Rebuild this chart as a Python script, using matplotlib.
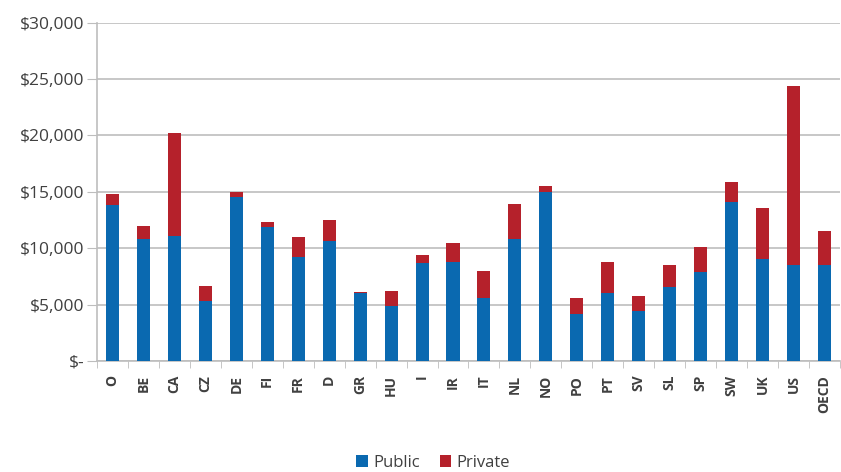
import matplotlib.pyplot as plt
import numpy as np
from matplotlib.ticker import FuncFormatter

countries = ['O', 'BE', 'CA', 'CZ', 'DE', 'FI', 'FR', 'D', 'GR', 'HU', 'I', 'IR',
             'IT', 'NL', 'NO', 'PO', 'PT', 'SV', 'SL', 'SP', 'SW', 'UK', 'US', 'OECD']
public  = [13800, 10800, 11100, 5350, 14500, 11850, 9250, 10650, 6000, 4900, 8650, 8800,
           5600, 10850, 15000, 4150, 6000, 4450, 6550, 7850, 14100, 9050, 8500, 8500]
total   = [14800, 12000, 20200, 6650, 15000, 12350, 10950, 12500, 6150, 6250, 9400, 10500,
           8000, 13950, 15550, 5600, 8800, 5750, 8550, 10100, 15900, 13550, 24400, 11500]
private = [t - p for t, p in zip(total, public)]

BLUE = '#0a69b0'
RED  = '#b5212b'
TXT  = '#404040'
GRID = '#bdbdbd'

plt.rcParams['font.family'] = ['Open Sans', 'DejaVu Sans']

fig = plt.figure(figsize=(8.41, 4.72), dpi=100)
ax = fig.add_axes([0.1153, 0.2352, 0.8835, 0.7168])

x = np.arange(len(countries))
w = 0.42
ax.bar(x, public, w, color=BLUE, label='Public', zorder=3)
ax.bar(x, private, w, bottom=public, color=RED, label='Private', zorder=3)

ax.set_xlim(-0.5, len(countries) - 0.5)
ax.set_ylim(0, 30000)
ax.set_yticks(np.arange(0, 30001, 5000))
ax.yaxis.set_major_formatter(FuncFormatter(lambda v, _: '$-' if v == 0 else f'${v:,.0f}'))
ax.yaxis.grid(True, color=GRID, lw=1.2, zorder=0)
ax.tick_params(axis='y', length=7, color=GRID, labelsize=12.5, labelcolor=TXT, pad=2)

ax.set_xticks(x)
ax.set_xticklabels(countries, rotation=90, fontsize=10, fontweight='bold', color=TXT)
ax.set_xticks(np.arange(-0.5, len(countries), 1), minor=True)
ax.tick_params(axis='x', which='major', length=0, pad=10)
ax.tick_params(axis='x', which='minor', length=5, color=GRID)

for s in ['top', 'right']:
    ax.spines[s].set_visible(False)
for s in ['left', 'bottom']:
    ax.spines[s].set_color(GRID)
    ax.spines[s].set_linewidth(1.2)

fig.legend(loc='center', bbox_to_anchor=(0.515, 0.02), ncol=2, frameon=False,
           fontsize=12, handlelength=0.7, handleheight=0.7, handletextpad=0.3,
           columnspacing=1.2, labelcolor=TXT)

fig.savefig('out.png', dpi=100)
